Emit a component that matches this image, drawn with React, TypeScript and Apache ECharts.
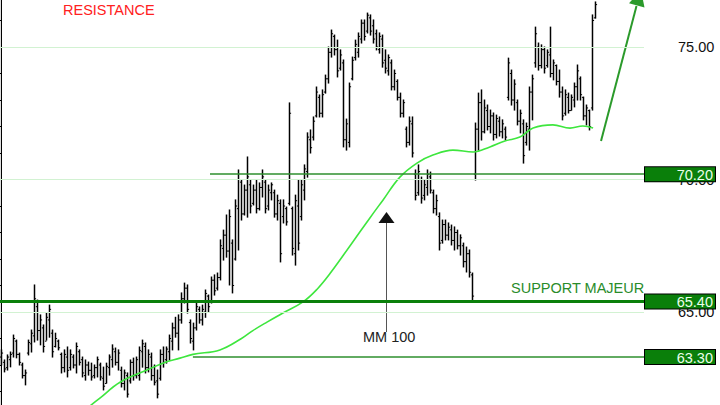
import React, { useEffect, useRef } from "react";
import * as echarts from "echarts";

// OHLC bars: [open, high, low, close]
const bars: number[][] = [
  [63.30, 63.57, 63.00, 63.45], [63.10, 63.19, 62.74, 62.85], [62.90, 63.38, 62.81, 63.30], [63.20, 63.49, 62.93, 63.40],
  [63.45, 64.13, 63.30, 64.00], [63.90, 63.94, 63.27, 63.40], [63.40, 63.45, 63.00, 63.10], [63.00, 63.07, 62.51, 62.60],
  [62.60, 62.81, 62.25, 62.70], [63.45, 63.94, 63.38, 63.85], [63.80, 64.32, 63.49, 64.20], [64.10, 66.02, 63.87, 65.50],
  [65.20, 65.45, 63.94, 64.30], [64.30, 64.89, 63.76, 64.70], [64.40, 64.51, 63.49, 63.70], [63.90, 64.96, 63.94, 64.80],
  [64.70, 65.26, 64.05, 65.10], [64.20, 64.32, 63.30, 63.50], [63.70, 64.20, 63.68, 64.00], [63.90, 63.94, 63.57, 63.65],
  [63.40, 63.45, 62.70, 62.90], [62.90, 63.57, 62.74, 63.40], [63.30, 63.68, 62.55, 62.80], [62.90, 63.57, 62.81, 63.40],
  [63.30, 63.38, 62.89, 63.00], [63.00, 63.83, 62.70, 63.70], [63.50, 63.57, 63.00, 63.10], [63.20, 63.30, 62.55, 62.70],
  [62.60, 63.19, 62.43, 63.00], [63.00, 63.11, 62.62, 62.80], [62.80, 63.07, 62.43, 62.55], [62.60, 63.00, 62.51, 62.90],
  [62.90, 63.30, 62.55, 63.20], [63.00, 63.07, 62.43, 62.55], [62.50, 62.92, 62.06, 62.20], [62.30, 63.07, 62.32, 62.95],
  [62.90, 63.38, 62.62, 63.30], [63.20, 63.76, 62.92, 63.60], [63.50, 63.64, 63.00, 63.10], [63.10, 63.57, 62.81, 63.45],
  [62.80, 62.92, 62.17, 62.30], [62.30, 62.81, 62.06, 62.70], [62.60, 62.70, 61.79, 61.90], [62.40, 63.19, 62.32, 63.10],
  [63.10, 63.26, 62.43, 62.60], [62.60, 63.30, 62.51, 63.20], [62.60, 63.68, 62.43, 63.55], [63.50, 63.94, 62.92, 63.80],
  [63.70, 63.83, 62.70, 62.90], [62.90, 63.57, 62.74, 63.40], [63.30, 63.45, 62.43, 62.60], [62.60, 63.00, 62.25, 62.35],
  [62.40, 62.81, 61.76, 61.90], [62.50, 63.57, 62.43, 63.40], [63.40, 63.68, 62.92, 63.10], [63.20, 63.68, 63.07, 63.60],
  [63.50, 64.13, 63.19, 64.00], [63.90, 64.58, 63.57, 64.40], [64.40, 64.80, 64.05, 64.20], [64.20, 64.89, 63.57, 64.70],
  [64.70, 65.72, 64.58, 65.50], [65.50, 66.09, 65.34, 65.90], [65.90, 66.02, 64.96, 65.10], [64.60, 64.70, 63.83, 64.00],
  [63.90, 64.58, 63.57, 64.40], [64.40, 65.34, 64.32, 65.20], [65.10, 65.19, 64.58, 64.70], [64.70, 65.26, 64.51, 65.10],
  [65.00, 65.83, 64.80, 65.70], [65.60, 65.64, 65.00, 65.20], [65.40, 66.32, 65.34, 66.20], [66.20, 66.40, 65.64, 65.80],
  [65.90, 66.47, 65.83, 66.30], [66.30, 67.72, 66.21, 67.50], [67.40, 68.09, 66.96, 67.90], [67.90, 68.66, 67.07, 67.30],
  [67.30, 68.85, 66.02, 68.60], [67.60, 67.72, 65.72, 66.00], [67.00, 69.23, 66.96, 69.00], [68.90, 70.36, 67.34, 70.00],
  [69.90, 69.98, 68.47, 68.70], [68.70, 69.79, 68.66, 69.60], [69.60, 70.85, 68.58, 70.10], [69.80, 69.98, 68.74, 69.00],
  [69.10, 69.79, 69.04, 69.60], [69.60, 69.98, 68.74, 68.90], [68.90, 69.87, 68.85, 69.70], [69.70, 70.36, 69.34, 70.10],
  [69.90, 69.98, 68.74, 68.90], [69.00, 69.79, 68.85, 69.60], [69.50, 69.87, 69.23, 69.80], [69.50, 69.60, 68.58, 68.70],
  [68.70, 69.41, 68.47, 69.20], [69.10, 69.23, 66.89, 67.20], [68.60, 69.23, 68.36, 69.00], [68.90, 68.96, 68.28, 68.40],
  [69.10, 72.89, 69.04, 72.50], [68.90, 68.96, 67.15, 67.40], [67.20, 69.41, 66.77, 69.20], [69.00, 69.98, 67.34, 67.60],
  [68.60, 69.98, 68.47, 69.80], [69.60, 70.55, 69.23, 70.40], [70.30, 71.76, 70.09, 71.60], [71.50, 71.87, 71.00, 71.20],
  [71.60, 72.36, 71.49, 72.20], [72.40, 73.49, 72.36, 73.30], [73.10, 73.19, 72.36, 72.50], [72.50, 73.38, 72.36, 73.20],
  [73.30, 73.94, 73.26, 73.80], [73.80, 75.00, 73.64, 74.80], [74.80, 75.64, 74.62, 75.50], [75.40, 75.45, 74.70, 74.90],
  [74.90, 75.26, 73.87, 74.10], [74.20, 74.89, 74.13, 74.70], [74.40, 74.51, 71.23, 71.50], [71.50, 72.28, 71.11, 72.10],
  [71.40, 73.64, 71.23, 73.50], [73.80, 74.62, 73.76, 74.50], [74.60, 75.26, 74.51, 75.10], [74.80, 75.53, 74.62, 75.40],
  [75.30, 76.02, 75.15, 75.90], [75.90, 76.02, 75.26, 75.40], [75.60, 76.28, 75.53, 76.20], [76.10, 76.21, 75.45, 75.60],
  [75.80, 76.02, 75.15, 75.30], [75.50, 75.64, 74.89, 75.00], [74.90, 75.53, 74.77, 75.40], [75.30, 75.45, 74.24, 74.40],
  [74.50, 74.89, 74.02, 74.20], [74.10, 74.70, 73.94, 74.60], [74.40, 74.51, 73.38, 73.50], [73.50, 74.13, 73.38, 74.00],
  [73.70, 73.76, 73.00, 73.10], [73.10, 73.26, 72.36, 72.50], [72.50, 73.00, 72.36, 72.90], [71.90, 71.98, 71.23, 71.40],
  [71.40, 72.36, 71.30, 72.20], [72.10, 72.36, 70.85, 71.00], [70.20, 70.36, 69.23, 69.40], [69.50, 70.55, 69.41, 70.30],
  [70.00, 70.09, 69.11, 69.30], [69.40, 69.98, 69.23, 69.80], [69.70, 70.36, 69.41, 70.20], [70.10, 70.28, 69.49, 69.60],
  [69.50, 69.60, 68.74, 68.90], [68.90, 69.41, 68.66, 69.20], [68.60, 68.74, 67.34, 67.60], [67.70, 68.47, 67.60, 68.30],
  [68.30, 68.47, 67.72, 67.90], [67.90, 68.36, 67.72, 68.20], [68.10, 68.28, 67.53, 67.70], [67.70, 68.21, 67.34, 68.00],
  [68.00, 68.09, 67.38, 67.50], [67.50, 67.91, 67.15, 67.80], [67.50, 67.60, 66.70, 66.90], [66.90, 67.45, 66.51, 67.20],
  [67.20, 67.34, 66.32, 66.50], [66.40, 66.47, 65.45, 65.60], [70.20, 72.13, 69.98, 71.90], [71.90, 73.26, 71.11, 72.90],
  [72.90, 73.38, 71.49, 71.80], [71.80, 73.00, 71.76, 72.70], [72.60, 72.81, 71.87, 72.00], [72.00, 72.62, 71.76, 72.40],
  [72.40, 72.51, 71.49, 71.70], [71.70, 72.43, 71.57, 72.30], [72.20, 72.36, 71.64, 71.80], [71.80, 72.25, 71.57, 72.10],
  [71.90, 71.98, 71.49, 71.60], [73.10, 74.58, 73.00, 74.40], [74.00, 74.13, 72.81, 73.00], [73.00, 73.76, 72.62, 73.60],
  [72.90, 73.00, 72.06, 72.20], [72.20, 72.62, 71.76, 72.50], [72.10, 72.25, 70.62, 70.90], [71.40, 72.13, 71.30, 72.00],
  [71.90, 73.49, 71.11, 73.30], [73.30, 73.94, 72.25, 73.80], [74.40, 75.75, 74.24, 75.50], [75.00, 75.15, 74.13, 74.30],
  [74.30, 75.08, 74.21, 74.90], [74.90, 75.00, 74.02, 74.20], [74.30, 74.89, 74.24, 74.80], [74.70, 75.75, 73.87, 74.00],
  [74.00, 74.51, 73.76, 74.40], [74.30, 74.32, 73.57, 73.70], [73.70, 74.13, 73.11, 73.30], [73.30, 73.49, 72.25, 72.40],
  [72.50, 73.38, 72.43, 73.20], [73.10, 73.26, 72.51, 72.60], [72.60, 73.19, 72.62, 73.10], [73.00, 73.64, 72.74, 73.50],
  [73.50, 74.32, 73.00, 74.10], [73.80, 73.87, 73.00, 73.20], [73.10, 73.11, 72.25, 72.40], [72.40, 72.81, 72.06, 72.70],
  [72.60, 72.62, 71.87, 72.00], [72.70, 76.21, 72.62, 76.00], [76.10, 76.70, 76.09, 76.60],
];

// 100-period moving average: [bar index, price]
const maPoints: number[][] = [
  [27.8, 61.30], [32.8, 61.75], [39.5, 62.35], [48.5, 62.81], [54.0, 63.08], [59.5, 63.26],
  [63.8, 63.40], [72.8, 63.57], [80.0, 64.00], [83.8, 64.30], [88.5, 64.62], [93.8, 64.96],
  [100.5, 65.38], [105.2, 65.86], [109.5, 66.45], [116.2, 67.50], [122.8, 68.55], [127.2, 69.23],
  [132.8, 70.09], [138.5, 70.62], [143.8, 70.92], [150.5, 71.11], [157.2, 71.04], [162.8, 71.23],
  [167.8, 71.45], [172.8, 71.60], [177.2, 71.94], [183.8, 72.06], [189.5, 71.94], [193.8, 72.02],
  [197.2, 71.94],
];

// Horizontal support / resistance levels and the bar index where each starts
const levelValues = [70.2, 65.4, 63.3];
const levelStarts = [69.5, -0.5, 63.8];
const levelWidths = [1.6, 3, 1.6];

// Major grid levels and axis label levels
const gridLevels = [65, 70, 75];

const FONT = '"Liberation Sans", Arial, Helvetica, sans-serif';
const X_MIN = -0.5;
const X_MAX = 214.17;
// the chart canvas starts 6px above the page so that the 61..77 axis fits exactly
const OFF = 6;

export default function App() {
  const ref = useRef<HTMLDivElement>(null);

  useEffect(() => {
    if (!ref.current) return;
    const chart = echarts.init(ref.current, undefined, { renderer: "svg" });

    const ohlcData = bars.map((b, i) => [i, b[0], b[1], b[2], b[3]]);

    const option: any = {
      animation: false,
      backgroundColor: "#ffffff",
      grid: { left: 0, right: 76, top: 0, bottom: 0, containLabel: false },
      xAxis: {
        type: "value",
        min: X_MIN,
        max: X_MAX,
        show: false,
      },
      yAxis: {
        type: "value",
        position: "right",
        min: 61,
        max: 77,
        interval: 1,
        splitLine: { show: false },
        axisLine: { show: true, lineStyle: { color: "#000", width: 1 } },
        axisTick: { show: true, inside: true, length: 4, lineStyle: { color: "#000" } },
        axisLabel: {
          show: true,
          margin: 34,
          color: "#111",
          fontFamily: FONT,
          fontSize: 14.5,
          formatter: (v: number) => (gridLevels.includes(v) ? v.toFixed(2) : ""),
        },
      },
      series: [
        {
          type: "line",
          data: [],
          z: 1,
          silent: true,
          markLine: {
            silent: true,
            symbol: ["none", "none"],
            label: { show: false },
            lineStyle: { color: "#d2f2d2", width: 1, type: "solid" },
            data: gridLevels.map((v) => ({ yAxis: v })),
          },
        },
        {
          type: "custom",
          z: 2,
          silent: true,
          data: ohlcData,
          encode: { x: 0, y: [1, 2, 3, 4] },
          renderItem: (params: any, api: any) => {
            const xi = api.value(0);
            const pO = api.coord([xi, api.value(1)]);
            const pH = api.coord([xi, api.value(2)]);
            const pL = api.coord([xi, api.value(3)]);
            const pC = api.coord([xi, api.value(4)]);
            const st = { stroke: "#000", lineWidth: 1.5 };
            return {
              type: "group",
              children: [
                { type: "line", shape: { x1: pH[0], y1: pH[1] - 0.5, x2: pL[0], y2: pL[1] + 0.5 }, style: st },
                { type: "line", shape: { x1: pO[0] - 1.6, y1: pO[1], x2: pO[0], y2: pO[1] }, style: { stroke: "#000", lineWidth: 1 } },
                { type: "line", shape: { x1: pC[0], y1: pC[1], x2: pC[0] + 1.6, y2: pC[1] }, style: { stroke: "#000", lineWidth: 1 } },
              ],
            };
          },
        },
        {
          type: "line",
          z: 3,
          silent: true,
          data: maPoints,
          smooth: 0.4,
          showSymbol: false,
          symbol: "none",
          lineStyle: { color: "#3ee63e", width: 1.6 },
        },
        {
          type: "line",
          data: [],
          z: 4,
          silent: true,
          markLine: {
            silent: true,
            symbol: ["none", "none"],
            label: {
              show: true,
              position: "end",
              distance: 1,
              formatter: (p: any) => "{b|" + p.name + "}",
              backgroundColor: "#0a7f0a",
              borderColor: "#000",
              borderWidth: 1,
              padding: [1, 2, 0, 2],
              rich: {
                b: {
                  width: 66,
                  align: "right",
                  color: "#ecffec",
                  fontFamily: FONT,
                  fontSize: 14.5,
                  lineHeight: 13,
                },
              },
            },
            data: levelValues.map((v, k) => [
              {
                name: v.toFixed(2),
                coord: [levelStarts[k], v],
                lineStyle: {
                  color: k === 1 ? "#0a800a" : "#2e8f2e",
                  width: levelWidths[k],
                  type: "solid",
                },
              },
              { coord: [X_MAX, v] },
            ]),
          },
        },
      ],
      graphic: [
        {
          type: "line",
          silent: true,
          shape: { x1: 0.5, y1: OFF, x2: 0.5, y2: 405 + OFF },
          style: { stroke: "#dddddd", lineWidth: 1 },
        },
        {
          type: "text",
          silent: true,
          x: 63,
          y: 10 + OFF,
          style: { text: "RESISTANCE", fill: "#ff2020", fontFamily: FONT, fontSize: 14.5, verticalAlign: "middle" },
        },
        {
          type: "text",
          silent: true,
          x: 511,
          y: 288 + OFF,
          style: { text: "SUPPORT MAJEUR", fill: "#2a8c2a", fontFamily: FONT, fontSize: 14.5, verticalAlign: "middle" },
        },
        {
          type: "text",
          silent: true,
          x: 363,
          y: 337 + OFF,
          style: { text: "MM 100", fill: "#222", fontFamily: FONT, fontSize: 14.5, verticalAlign: "middle" },
        },
        {
          type: "line",
          silent: true,
          shape: { x1: 386.5, y1: 332 + OFF, x2: 386.5, y2: 222 + OFF },
          style: { stroke: "#555", lineWidth: 1 },
        },
        {
          type: "polygon",
          silent: true,
          shape: { points: [[386.5, 212 + OFF], [378.5, 223 + OFF], [394.5, 223 + OFF]] },
          style: { fill: "#111" },
        },
        {
          type: "line",
          silent: true,
          shape: { x1: 601, y1: 141 + OFF, x2: 636.5, y2: 6 + OFF },
          style: { stroke: "#2b9a2b", lineWidth: 2 },
        },
        {
          type: "polygon",
          silent: true,
          shape: { points: [[641, -10 + OFF], [644.5, 7.5 + OFF], [629, 3.3 + OFF]] },
          style: { fill: "#2b9a2b" },
        },
      ],
    };

    chart.setOption(option);
    return () => {
      chart.dispose();
    };
  }, []);

  return (
    <div
      ref={ref}
      style={{ position: "fixed", left: 0, top: -OFF, width: 720, height: 424, background: "#fff" }}
    />
  );
}
